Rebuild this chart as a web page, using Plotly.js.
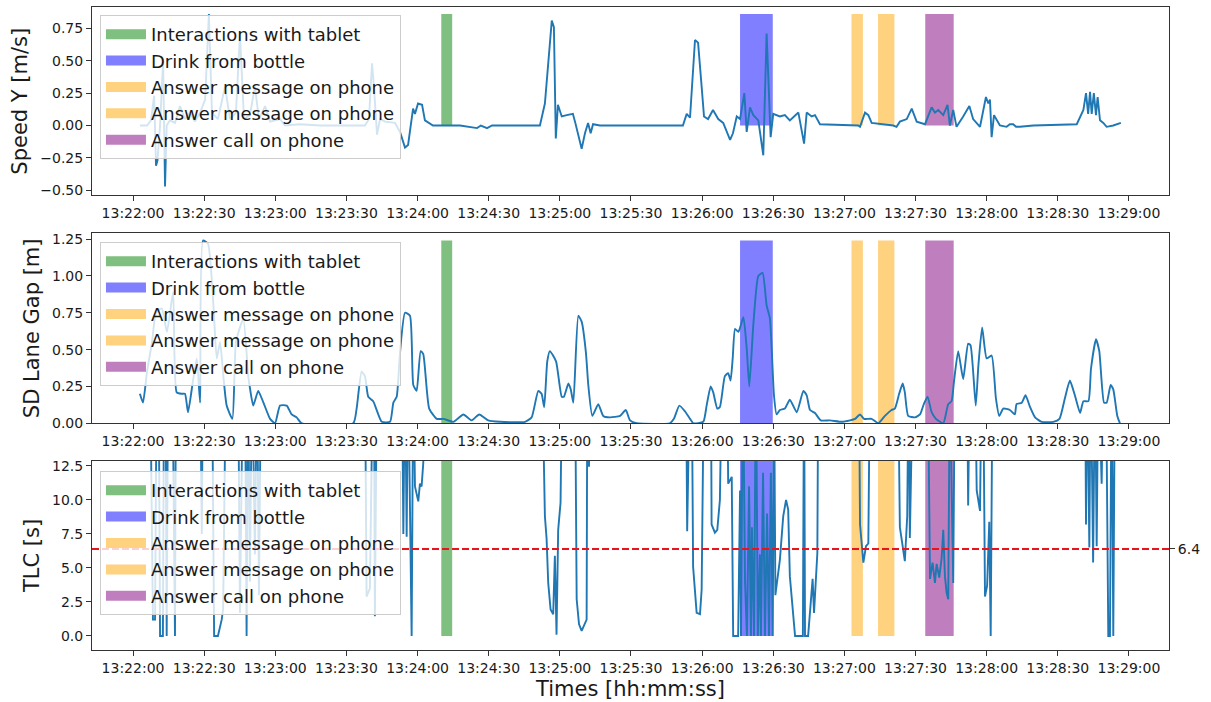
<!DOCTYPE html>
<html><head><meta charset="utf-8">
<script src="https://cdn.plot.ly/plotly-3.0.1.min.js"></script>
<style>html,body{margin:0;padding:0;background:#fff}#chart{width:1211px;height:702px}</style>
</head><body><div id="chart"></div>
<script>
// ---- data (time = seconds after 13:22:00) ----
const eventLabels = ['Interactions with tablet','Drink from bottle','Answer message on phone','Answer message on phone','Answer call on phone'];
const eventStart = [130.0, 256.0, 303.0, 314.2, 334.1];
const eventEnd   = [134.6, 269.8, 307.8, 321.1, 346.1];

const speedData = [[2.9,0],[5.9,0],[7.6,0.04],[8.9,0.23],[9.7,-0.31],[10.3,-0.27],[11.4,0],[12.7,0.5],[13.5,-0.47],[14.2,0],[15.6,0.04],[17.7,0.02],[19.8,0.15],[21.9,0.05],[24.0,0.1],[26.1,0.03],[28.3,0.1],[30.4,0.2],[32.0,0.86],[33.3,0.1],[35.8,0.05],[38.8,0.3],[40.9,0.05],[43.4,0.1],[45.1,0.7],[46.8,0.05],[49.3,0.08],[51.4,0.3],[53.1,0.05],[55.7,0.15],[57.8,0.03],[62.0,0.05],[64.1,0],[70.4,0.01],[78.9,0],[89.4,0],[97.8,0],[99.5,0.05],[100.8,0.48],[101.6,0.3],[102.9,-0.07],[104.2,0.05],[106.3,0.03],[110.5,0.02],[112.6,-0.05],[114.7,-0.17],[116.0,-0.15],[118.1,0.13],[118.9,0.09],[120.2,0.17],[121.9,0.16],[123.1,0.04],[126.5,0],[137.9,0],[145.1,-0.02],[146.7,0],[149.3,-0.02],[151.4,0],[171.6,0],[173.7,0.17],[176.6,0.81],[177.5,0.76],[178.3,-0.1],[179.2,0.16],[180.8,0.07],[182.9,0.08],[185.5,0.09],[186.4,0.03],[188.5,-0.14],[189.2,-0.18],[190.6,-0.06],[191.9,0.02],[193.0,-0.06],[194.0,0.01],[196.9,0],[231.9,0],[233.5,0.09],[234.9,0.06],[237.0,0.66],[238.3,0.64],[239.8,0.3],[240.8,0.07],[242.5,0.05],[244.6,0.12],[246.8,0.05],[248.9,0.02],[251.8,-0.11],[253.0,-0.06],[254.6,0.07],[256.0,0.05],[257.8,0.25],[258.8,-0.05],[260.2,0.14],[261.6,0.08],[263.7,0.04],[265.8,-0.23],[267.2,0.71],[268.3,0.12],[268.9,-0.09],[270.0,0.09],[272.8,0.07],[274.9,0.08],[277.0,0.04],[280.6,0.1],[283.0,-0.14],[284.1,0.1],[286.2,0.07],[287.6,0.08],[289.7,0.01],[305.8,0],[306.6,-0.01],[308.7,0.1],[310.1,0.08],[311.5,0.02],[320.6,0],[322.0,-0.01],[323.4,0.03],[326.3,0.05],[328.4,0.13],[330.5,0.03],[334.0,0.01],[336.8,0.14],[338.2,0.1],[339.6,0.12],[341.7,0.08],[343.5,0.16],[344.5,0],[345.9,0.12],[347.3,-0.01],[350.1,0.07],[352.7,0.15],[354.3,0.05],[357.2,-0.01],[359.7,0.22],[360.7,0.17],[361.4,0.2],[362.1,-0.09],[363.1,0.08],[365.6,0],[368.4,-0.01],[369.8,0.01],[371.2,0.01],[372.4,-0.01],[374.0,-0.01],[379.7,0],[398.0,0.01],[400.8,0.12],[401.9,0.25],[402.8,0.09],[403.6,0.26],[404.3,0.09],[405.2,0.25],[406.1,0.08],[406.8,0.22],[407.8,0.04],[409.2,0.02],[410.6,-0.01],[413.4,0],[416.6,0.02]];

const sdData = [[2.9,0.2],[4.2,0.14],[5.9,0.35],[8.0,0.55],[9.7,0.75],[12.1,0.78],[14.3,0.62],[16.9,0.89],[18.4,0.21],[20.5,0.2],[21.9,0.2],[23.2,0.075],[25.3,0.29],[26.9,0.44],[28.3,0.14],[29.5,1.24],[31.6,1.22],[33.9,0.8],[35.3,0.44],[36.7,0.55],[38.1,0.32],[39.5,0.12],[41.9,0.03],[43.4,0.55],[46.5,0.71],[48.6,0.32],[49.3,0.24],[50.7,0.12],[52.8,0.22],[55.0,0.14],[57.8,0.03],[59.9,0],[62.0,0.12],[64.8,0.12],[66.9,0.06],[69.0,0.04],[71.1,0],[92.9,0],[94.3,0.1],[96.4,0.35],[97.8,0.32],[99.2,0.18],[101.3,0.15],[104.9,0.01],[108.4,0.01],[109.8,0.14],[111.2,0.18],[112.6,0.48],[114.7,0.75],[116.8,0.73],[118.2,0.26],[119.6,0.22],[121.3,0.49],[122.4,0.47],[124.9,0.1],[128.1,0.03],[130.9,0.03],[135.1,0.01],[139.3,0.06],[142.8,0.02],[146.0,0.06],[149.8,0.02],[154.8,0.01],[165.3,0.01],[168.1,0.04],[170.9,0.22],[172.3,0.2],[173.4,0.11],[174.7,0.42],[175.8,0.49],[178.4,0.42],[180.8,0.18],[181.7,0.18],[183.6,0.27],[184.6,0.23],[185.7,0.14],[187.8,0.73],[189.2,0.69],[191.0,0.48],[192.0,0.26],[193.7,0.05],[196.2,0.13],[198.3,0.05],[201.1,0.04],[205.4,0.05],[207.8,0.09],[209.6,0.02],[212.4,0],[226.4,0],[228.1,0.03],[230.4,0.12],[232.8,0.08],[234.9,0.03],[236.3,0],[240.5,0.01],[241.9,0.12],[243.6,0.25],[244.7,0.21],[246.4,0.1],[247.5,0.11],[249.6,0.32],[251.0,0.34],[252.0,0.29],[252.9,0.44],[253.9,0.64],[255.3,0.62],[257.4,0.72],[258.8,0.51],[259.9,0.25],[261.6,0.67],[263.7,1.0],[265.5,1.02],[267.2,0.8],[268.6,0.71],[270.3,0.19],[271.4,0.06],[272.8,0.09],[274.9,0.1],[277.0,0.16],[279.9,0.075],[282.7,0.22],[284.1,0.19],[285.5,0.09],[287.6,0.07],[290.0,0.02],[293.9,0.02],[298.9,0.01],[302.4,0.02],[304.5,0.03],[306.6,0.06],[308.3,0.03],[311.5,0.03],[314.3,0],[317.1,0.05],[319.9,0.09],[321.3,0.1],[323.1,0.2],[324.6,0.27],[325.5,0.21],[326.9,0.05],[329.8,0.04],[331.9,0.06],[333.5,0.13],[335.1,0.18],[336.8,0.075],[338.6,0.03],[341.7,0],[343.8,0.13],[345.2,0.15],[346.2,0.28],[348.0,0.49],[350.1,0.3],[352.2,0.54],[353.2,0.53],[355.4,0.12],[356.5,0.39],[358.1,0.65],[360.0,0.44],[362.1,0.46],[363.9,0.17],[365.3,0.05],[367.0,0.1],[369.8,0.09],[371.9,0.06],[372.6,0.13],[374.8,0.14],[376.4,0.19],[378.3,0.11],[380.4,0.04],[383.2,0.01],[388.1,0.01],[390.7,0.03],[393.0,0.17],[395.1,0.29],[397.2,0.19],[399.4,0.07],[400.8,0.15],[402.9,0.15],[404.0,0.37],[406.1,0.57],[407.5,0.49],[409.5,0.14],[410.6,0.14],[412.3,0.26],[413.4,0.23],[415.1,0.05],[416.2,0]];

// TLC values of 20 stand for readings above the visible range (line leaves the top of the panel)
const tlcData = [[7.2,20],[8.4,1.2],[9.3,1.2],[10.0,20],[10.8,20],[11.4,0],[12.6,0],[13.1,20],[13.7,20],[14.2,0],[14.8,20],[16.6,20],[17.7,0],[18.1,20],[28.3,20],[29.0,7.5],[29.5,20],[33.3,20],[34.2,0],[35.8,0],[37.4,1.2],[38.0,2.0],[39.2,20],[44.3,20],[45.1,1.7],[46.4,20],[47.2,20],[47.9,0],[48.5,20],[49.3,4.0],[50.2,20],[51.4,6.0],[52.3,20],[53.1,3.0],[54.0,20],[97.8,20],[98.5,2.9],[99.9,3.5],[101.2,20],[101.6,20],[102.0,1.46],[102.9,20],[113.4,20],[114.0,7.5],[114.7,20],[115.4,7.3],[116.0,20],[117.5,0],[118.2,20],[118.9,11.0],[120.3,9.9],[121.0,11.2],[121.7,11.0],[122.4,12.7],[123.1,20],[172.5,20],[173.7,8.8],[174.4,7.2],[175.1,3.9],[176.1,1.95],[177.2,1.6],[177.9,5.9],[178.6,0.1],[179.3,7.8],[180.3,9.8],[181.0,20],[186.4,20],[187.1,2.7],[188.1,0.86],[189.2,0.37],[190.6,1.0],[191.3,1.2],[191.6,20],[192.3,12.45],[193.1,20],[233.2,20],[233.7,7.7],[234.9,20],[235.6,20],[236.2,5.1],[237.7,1.7],[239.1,1.6],[239.8,3.4],[240.8,20],[243.7,20],[244.0,8.2],[245.4,7.6],[246.4,7.8],[247.5,10.0],[248.4,20],[250.5,20],[251.0,11.2],[252.5,11.7],[253.1,0],[255.2,0],[256.0,10.7],[256.4,0],[257.2,20],[258.1,4.0],[258.9,0],[259.8,11.0],[260.6,0],[261.0,8.0],[261.9,0],[262.7,20],[263.5,0],[264.4,6.0],[264.8,0],[265.7,12.0],[266.5,0],[267.4,9.0],[268.2,0],[269.0,12.0],[269.8,0],[270.3,20],[270.9,3.0],[271.4,3.7],[272.8,5.6],[274.2,8.8],[275.4,10.0],[276.3,9.3],[277.0,4.4],[279.2,0],[282.5,0],[283.0,20],[283.4,0],[284.7,0],[285.5,2.0],[286.6,4.2],[287.2,1.7],[288.0,3.9],[288.6,6.1],[289.0,20],[306.1,20],[306.6,8.2],[308.0,5.4],[309.1,6.6],[310.1,6.8],[310.8,20],[322.6,20],[323.4,8.0],[324.7,6.6],[325.5,5.5],[326.5,8.8],[327.1,20],[327.6,7.2],[329.0,20],[335.2,20],[336.1,4.2],[337.2,5.4],[338.2,3.9],[338.9,5.3],[340.0,4.3],[341.0,5.7],[341.7,7.8],[342.4,4.4],[343.1,3.2],[343.8,2.7],[344.5,20],[345.2,11.2],[345.9,3.9],[346.6,20],[351.7,20],[352.2,9.6],[352.9,20],[355.1,20],[355.8,10.7],[357.2,9.2],[357.9,20],[358.5,20],[359.3,2.9],[360.2,3.7],[361.1,8.4],[361.7,0],[362.5,20],[401.5,20],[401.9,8.2],[402.4,20],[403.3,6.5],[403.9,20],[404.9,5.4],[405.7,20],[406.4,6.6],[407.1,20],[408.5,11.2],[409.2,20],[410.3,20],[411.3,0],[412.0,0],[412.7,20],[413.4,0],[414.1,20]];

const tlcThreshold = 6.4;
const xRangeSec = [-17.3, 436.9];

// ---- helpers ----
const BASE_MS = Date.UTC(2021, 0, 1, 13, 22, 0);
function ts(s) {
  const d = new Date(BASE_MS + Math.round(s * 1000));
  return d.toISOString().replace('T', ' ').replace('Z', '');
}
const eventColors = ['rgba(0,128,0,0.5)','rgba(0,0,255,0.5)','rgba(255,165,0,0.5)','rgba(255,165,0,0.5)','rgba(128,0,128,0.5)'];
const FONT = 'DejaVu Sans, Verdana, sans-serif';
const TXT = '#1a1a1a';
const LINE = '#1f77b4';

const panels = [
  {data: speedData, xa: 'x', ya: 'y', legend: 'legend', top: Math.max(...speedData.map(p => p[1])), shape: 'linear'},
  {data: sdData, xa: 'x2', ya: 'y2', legend: 'legend2', top: Math.max(...sdData.map(p => p[1])), shape: 'spline'},
  {data: tlcData, xa: 'x3', ya: 'y3', legend: 'legend3', top: Math.max(...tlcData.map(p => p[1])), shape: 'linear'}
];

const traces = [];
panels.forEach(p => {
  eventLabels.forEach((lab, i) => {
    traces.push({
      type: 'scatter', mode: 'lines', xaxis: p.xa, yaxis: p.ya,
      x: [ts(eventStart[i]), ts(eventStart[i]), ts(eventEnd[i]), ts(eventEnd[i])],
      y: [0, p.top, p.top, 0],
      fill: 'toself', fillcolor: eventColors[i], line: {width: 0, color: eventColors[i]},
      showlegend: false, hoverinfo: 'skip', legendgroup: p.legend + i
    });
  });
  traces.push({
    type: 'scatter', mode: 'lines', xaxis: p.xa, yaxis: p.ya,
    x: p.data.map(d => ts(d[0])), y: p.data.map(d => d[1]),
    line: {color: LINE, width: 1.9, shape: p.shape, smoothing: 0.5}, showlegend: false
  });
  eventLabels.forEach((lab, i) => {
    traces.push({
      type: 'scatter', mode: 'lines', xaxis: p.xa, yaxis: p.ya,
      x: [null], y: [null], name: lab, legend: p.legend, legendgroup: p.legend + i,
      line: {color: eventColors[i], width: 10}, showlegend: true, hoverinfo: 'skip'
    });
  });
});

const xRange = [ts(xRangeSec[0]), ts(xRangeSec[1])];
// threshold line on an overlaying right-hand axis (carries the "6.4" tick label)
traces.push({
  type: 'scatter', mode: 'lines', xaxis: 'x3', yaxis: 'y4',
  x: xRange, y: [tlcThreshold, tlcThreshold],
  line: {color: '#e8141c', width: 1.9, dash: '7px,3px'}, showlegend: false, hoverinfo: 'skip'
});

function xaxis(anchor, extra) {
  return Object.assign({
    type: 'date', anchor: anchor, range: xRange, tick0: ts(0), dtick: 30000,
    tickformat: '%H:%M:%S', ticks: 'outside', ticklen: 5, tickcolor: '#333',
    showline: true, mirror: true, linecolor: '#333', linewidth: 1,
    showgrid: false, zeroline: false, tickfont: {size: 14, color: TXT, family: FONT}
  }, extra || {});
}
function yaxis(anchor, domain, range, dtick, fmt, title) {
  return {
    anchor: anchor, domain: domain, range: range, dtick: dtick, tick0: 0, tickformat: fmt,
    ticks: 'outside', ticklen: 5, tickcolor: '#333',
    showline: true, mirror: true, linecolor: '#333', linewidth: 1,
    showgrid: false, zeroline: false, tickfont: {size: 14, color: TXT, family: FONT},
    title: {text: title, font: {size: 21, color: TXT, family: FONT}, standoff: 6}
  };
}
function legendCfg(y) {
  return {
    x: 0.0074, y: y, xanchor: 'left', yanchor: 'top',
    bgcolor: 'rgba(255,255,255,0.8)', bordercolor: '#cccccc', borderwidth: 1,
    font: {size: 18, color: TXT, family: FONT}, itemwidth: 40, tracegroupgap: 0
  };
}

const layout = {
  width: 1211, height: 702,
  margin: {l: 92, r: 42, t: 7, b: 52},
  paper_bgcolor: '#fff', plot_bgcolor: '#fff',
  font: {family: FONT, color: TXT},
  showlegend: true,
  xaxis: xaxis('y'),
  xaxis2: xaxis('y2', {matches: 'x'}),
  xaxis3: xaxis('y3', {matches: 'x', title: {text: 'Times [hh:mm:ss]', font: {size: 21, color: TXT, family: FONT}, standoff: 6}}),
  yaxis: yaxis('x', [0.7069, 1], [-0.54, 0.915], 0.25, '.2f', 'Speed Y [m/s]'),
  yaxis2: yaxis('x2', [0.3526, 0.648], [0, 1.289], 0.25, '.2f', 'SD Lane Gap [m]'),
  yaxis3: yaxis('x3', [0, 0.294], [-1.03, 12.87], 2.5, '.1f', 'TLC [s]'),
  yaxis4: {
    overlaying: 'y3', side: 'right', anchor: 'x3', range: [-1.03, 12.87],
    tickvals: [tlcThreshold], ticktext: [String(tlcThreshold)],
    ticks: 'outside', ticklen: 5, tickcolor: '#333', showline: false, showgrid: false, zeroline: false,
    tickfont: {size: 14, color: TXT, family: FONT}
  },
  legend: legendCfg(0.9876),
  legend2: legendCfg(0.6345),
  legend3: legendCfg(0.2784)
};

Plotly.newPlot('chart', traces, layout, {displayModeBar: false, staticPlot: true});
</script>
</body></html>
